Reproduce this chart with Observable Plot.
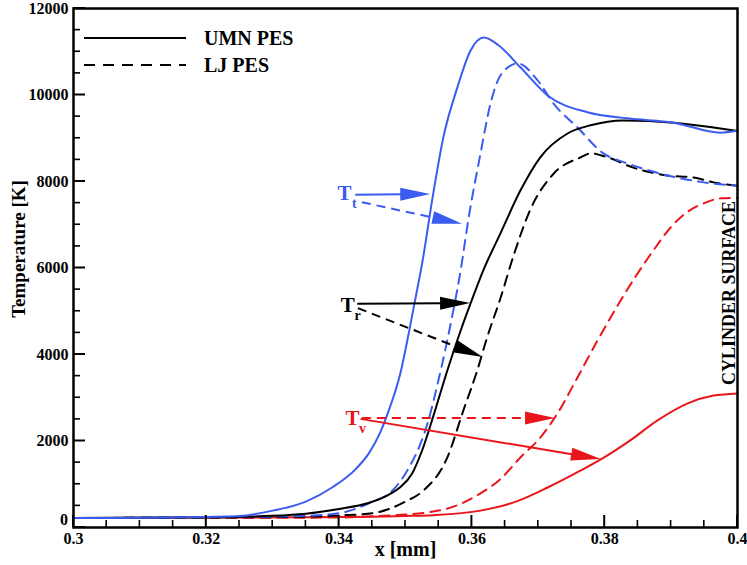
<!DOCTYPE html>
<html>
<head>
<meta charset="utf-8">
<script src="https://cdn.jsdelivr.net/npm/d3@7"></script>
<script src="https://cdn.jsdelivr.net/npm/@observablehq/plot@0.6"></script>
<style>
  html, body { margin: 0; padding: 0; background: #fff; overflow: hidden; }
  #chart { width: 747px; height: 565px; }
</style>
</head>
<body>
<div id="chart"></div>
<script>
// ---- data: [x (mm), T (K)] ----
const ttUMN = [[0.300,220],[0.310,225],[0.320,245],[0.325,265],[0.330,390],[0.335,600],[0.339,930],[0.3425,1350],[0.3445,1720],[0.3462,2200],[0.3477,2800],[0.3492,3550],[0.3505,4500],[0.3515,5300],[0.3525,6100],[0.3541,7650],[0.3557,9020],[0.3578,10170],[0.3598,11030],[0.3618,11330],[0.3640,11150],[0.3673,10640],[0.3714,9990],[0.3774,9600],[0.3834,9460],[0.3904,9360],[0.3974,9130],[0.400,9180]];
const ttLJ = [[0.300,220],[0.320,235],[0.335,270],[0.340,330],[0.3445,560],[0.3482,880],[0.3500,1250],[0.3533,2400],[0.3553,3630],[0.3572,5020],[0.3583,5940],[0.3595,7150],[0.3613,8650],[0.3628,9800],[0.3643,10450],[0.3669,10730],[0.3699,10340],[0.3723,9800],[0.3759,9250],[0.3798,8650],[0.3834,8420],[0.3884,8180],[0.3949,7980],[0.400,7900]];
const trUMN = [[0.300,220],[0.320,235],[0.330,270],[0.335,320],[0.340,430],[0.3443,560],[0.3475,760],[0.3492,930],[0.3510,1250],[0.3525,1780],[0.3542,2580],[0.3563,3630],[0.3583,4550],[0.3598,5180],[0.3617,5940],[0.3643,6800],[0.3673,7790],[0.3703,8560],[0.3744,9110],[0.3779,9300],[0.3828,9410],[0.3904,9360],[0.3964,9250],[0.400,9170]];
const trLJ = [[0.300,220],[0.330,240],[0.340,280],[0.345,330],[0.3500,600],[0.3527,855],[0.3563,1620],[0.3587,2700],[0.3608,3630],[0.3623,4400],[0.3643,5300],[0.3663,6300],[0.3688,7350],[0.3723,8180],[0.3764,8560],[0.3779,8650],[0.3804,8560],[0.3843,8320],[0.3894,8140],[0.3934,8090],[0.3964,7980],[0.400,7900]];
const tvUMN = [[0.300,220],[0.340,240],[0.350,265],[0.3542,285],[0.3613,390],[0.3663,580],[0.3714,925],[0.3764,1320],[0.3798,1610],[0.3839,2020],[0.3879,2470],[0.3925,2870],[0.3964,3050],[0.400,3100]];
const tvLJ = [[0.300,220],[0.340,230],[0.345,260],[0.3533,350],[0.3568,460],[0.3613,790],[0.3643,1120],[0.3673,1620],[0.3703,2080],[0.3729,2640],[0.3759,3470],[0.3789,4320],[0.3824,5250],[0.3873,6400],[0.3900,6950],[0.3925,7300],[0.3950,7500],[0.3975,7610],[0.400,7620]];

// annotation labels (T with subscript) and arrows, in data units
const tempLabels = [
  {series: "Tt", sub: "t", x: 0.3408, y: 7720},
  {series: "Tr", sub: "r", x: 0.3413, y: 5130},
  {series: "Tv", sub: "v", x: 0.3420, y: 2520}
];
const arrows = [
  {series: "Tt", dashed: false, x1: 0.3425, y1: 7680, x2: 0.3538, y2: 7700},
  {series: "Tt", dashed: true,  x1: 0.3435, y1: 7510, x2: 0.3586, y2: 7010},
  {series: "Tr", dashed: false, x1: 0.3428, y1: 5160, x2: 0.3598, y2: 5180},
  {series: "Tr", dashed: true,  x1: 0.3429, y1: 5060, x2: 0.3617, y2: 3930},
  {series: "Tv", dashed: true,  x1: 0.3435, y1: 2520, x2: 0.3726, y2: 2520},
  {series: "Tv", dashed: false, x1: 0.3433, y1: 2500, x2: 0.3795, y2: 1570}
];
const legendItems = [{label: "UMN PES", dashed: false}, {label: "LJ PES", dashed: true}];
const xTickLabels = [0.30, 0.32, 0.34, 0.36, 0.38, 0.40];
const yTickLabels = [2000, 4000, 6000, 8000, 10000, 12000];
const yZeroLabel = 0;
const surfaceLabel = "CYLINDER SURFACE";
const xLabel = "x [mm]";
const yLabel = "Temperature [K]";

// ---- styles ----
const colors = {Tt: "#3a5cf0", Tr: "#000000", Tv: "#e8161b"};
const DASH = "10,7";
const FONT = "'Liberation Serif', 'Times New Roman', serif";

const W = 747, H = 565, mL = 73, mR = 10, mT = 8, mB = 38;
const X0 = 0.3, X1 = 0.4, Y0 = 0, Y1 = 12000;

const xMinor = d3.range(0, 21).map(i => +(X0 + i * 0.005).toFixed(3)).filter(v => !xTickLabels.some(m => Math.abs(m - v) < 1e-9));
const yMinor = d3.range(1, 24).map(i => i * 500).filter(v => v % 2000 !== 0);
const yMajorTicks = [yZeroLabel].concat(yTickLabels);

const toObj = arr => arr.map(([x, y]) => ({x, y}));

function curve(arr, color, dashed) {
  return Plot.line(toObj(arr), {x: "x", y: "y", stroke: color, strokeWidth: 2, curve: "monotone-x", strokeDasharray: dashed ? DASH : null});
}

function arrowMark(index, scales) {
  const {x, y} = scales;
  const g = d3.create("svg:g");
  for (const a of arrows) {
    const c = colors[a.series];
    const x1 = x(a.x1), y1 = y(a.y1), x2 = x(a.x2), y2 = y(a.y2);
    const dx = x2 - x1, dy = y2 - y1, len = Math.hypot(dx, dy);
    const ux = dx / len, uy = dy / len;
    const L = 30, hw = 6.5;
    const bx = x2 - ux * L, by = y2 - uy * L;
    g.append("line")
      .attr("x1", x1).attr("y1", y1).attr("x2", bx + ux * 2).attr("y2", by + uy * 2)
      .attr("stroke", c).attr("stroke-width", 2)
      .attr("stroke-dasharray", a.dashed ? "9,6" : null);
    g.append("path")
      .attr("d", `M${x2},${y2}L${bx - uy * hw},${by + ux * hw}L${bx + uy * hw},${by - ux * hw}Z`)
      .attr("fill", c);
  }
  return g.node();
}

// inward tick marks on the bottom and left axes, placed with the plot's scales
function tickMark(index, scales) {
  const {x, y} = scales;
  const g = d3.create("svg:g");
  const yb = y(Y0), xl = x(X0);
  const add = (x1, y1, x2, y2, w) => g.append("path")
    .attr("d", `M${x1},${y1}L${x2},${y2}`)
    .attr("fill", "none").attr("stroke", "#000").attr("stroke-width", w);
  xTickLabels.forEach(v => add(x(v), yb, x(v), yb - 12, 2));
  xMinor.forEach(v => add(x(v), yb, x(v), yb - 7, 1.6));
  yMajorTicks.forEach(v => add(xl, y(v), xl + 12, y(v), 2));
  yMinor.forEach(v => add(xl, y(v), xl + 7, y(v), 1.6));
  g.append("text")
    .attr("x", xl - 5).attr("y", y(yZeroLabel) - 7).attr("dy", "0.32em")
    .attr("text-anchor", "end").attr("fill", "#000")
    .attr("font-size", 16).attr("font-weight", "bold").attr("font-family", FONT)
    .text(String(yZeroLabel));
  return g.node();
}

function legendMark(index, scales, values, dims) {
  const g = d3.create("svg:g");
  legendItems.forEach((d, i) => {
    const yy = dims.marginTop + 30 + i * 27;
    g.append("line")
      .attr("x1", dims.marginLeft + 11).attr("x2", dims.marginLeft + 113)
      .attr("y1", yy).attr("y2", yy)
      .attr("stroke", "#000").attr("stroke-width", 2.2)
      .attr("stroke-dasharray", d.dashed ? "11,8" : null);
    g.append("text")
      .attr("x", dims.marginLeft + 131).attr("y", yy)
      .attr("dy", "0.35em")
      .attr("text-anchor", "start")
      .attr("font-size", 20).attr("font-weight", "bold").attr("font-family", FONT)
      .attr("fill", "#000")
      .text(d.label);
  });
  return g.node();
}

const plot = Plot.plot({
  width: W, height: H,
  marginLeft: mL, marginRight: mR, marginTop: mT, marginBottom: mB,
  x: {domain: [X0, X1]},
  y: {domain: [Y0, Y1]},
  style: {fontFamily: FONT, fontWeight: "bold", fontSize: "16px", background: "#fff", color: "#000", overflow: "visible"},
  marks: [
    curve(tvUMN, colors.Tv, false),
    curve(tvLJ, colors.Tv, true),
    curve(trLJ, colors.Tr, true),
    curve(ttLJ, colors.Tt, true),
    curve(trUMN, colors.Tr, false),
    curve(ttUMN, colors.Tt, false),
    arrowMark,
    Plot.text(tempLabels, {x: "x", y: "y", text: () => "T", fill: d => colors[d.series], fontSize: 21, fontWeight: "bold"}),
    Plot.text(tempLabels, {x: "x", y: "y", text: "sub", fill: d => colors[d.series], fontSize: 14, fontWeight: "bold", dx: 10, dy: 10}),
    legendMark,
    Plot.text([surfaceLabel], {frameAnchor: "right", textAnchor: "middle", dx: -8, dy: 25, rotate: -90, fontSize: 18, fontWeight: "bold", fill: "#000"}),
    Plot.axisX({ticks: xTickLabels, tickSize: 0, tickPadding: 5, tickFormat: d3.format("~g"), label: null, fontSize: 16, fontWeight: "bold"}),
    Plot.axisY({ticks: yTickLabels, tickSize: 0, tickPadding: 5, tickFormat: d => String(d), label: null, fontSize: 16, fontWeight: "bold"}),
    Plot.text([xLabel], {frameAnchor: "bottom", dy: 28, fontSize: 20, fontWeight: "bold", fill: "#000"}),
    Plot.text([yLabel], {frameAnchor: "left", textAnchor: "middle", dx: -55, dy: -19, rotate: -90, fontSize: 19, fontWeight: "bold", fill: "#000"}),
    Plot.frame({stroke: "#000", strokeWidth: 2.5}),
    tickMark
  ]
});
document.getElementById("chart").appendChild(plot);
</script>
</body>
</html>
